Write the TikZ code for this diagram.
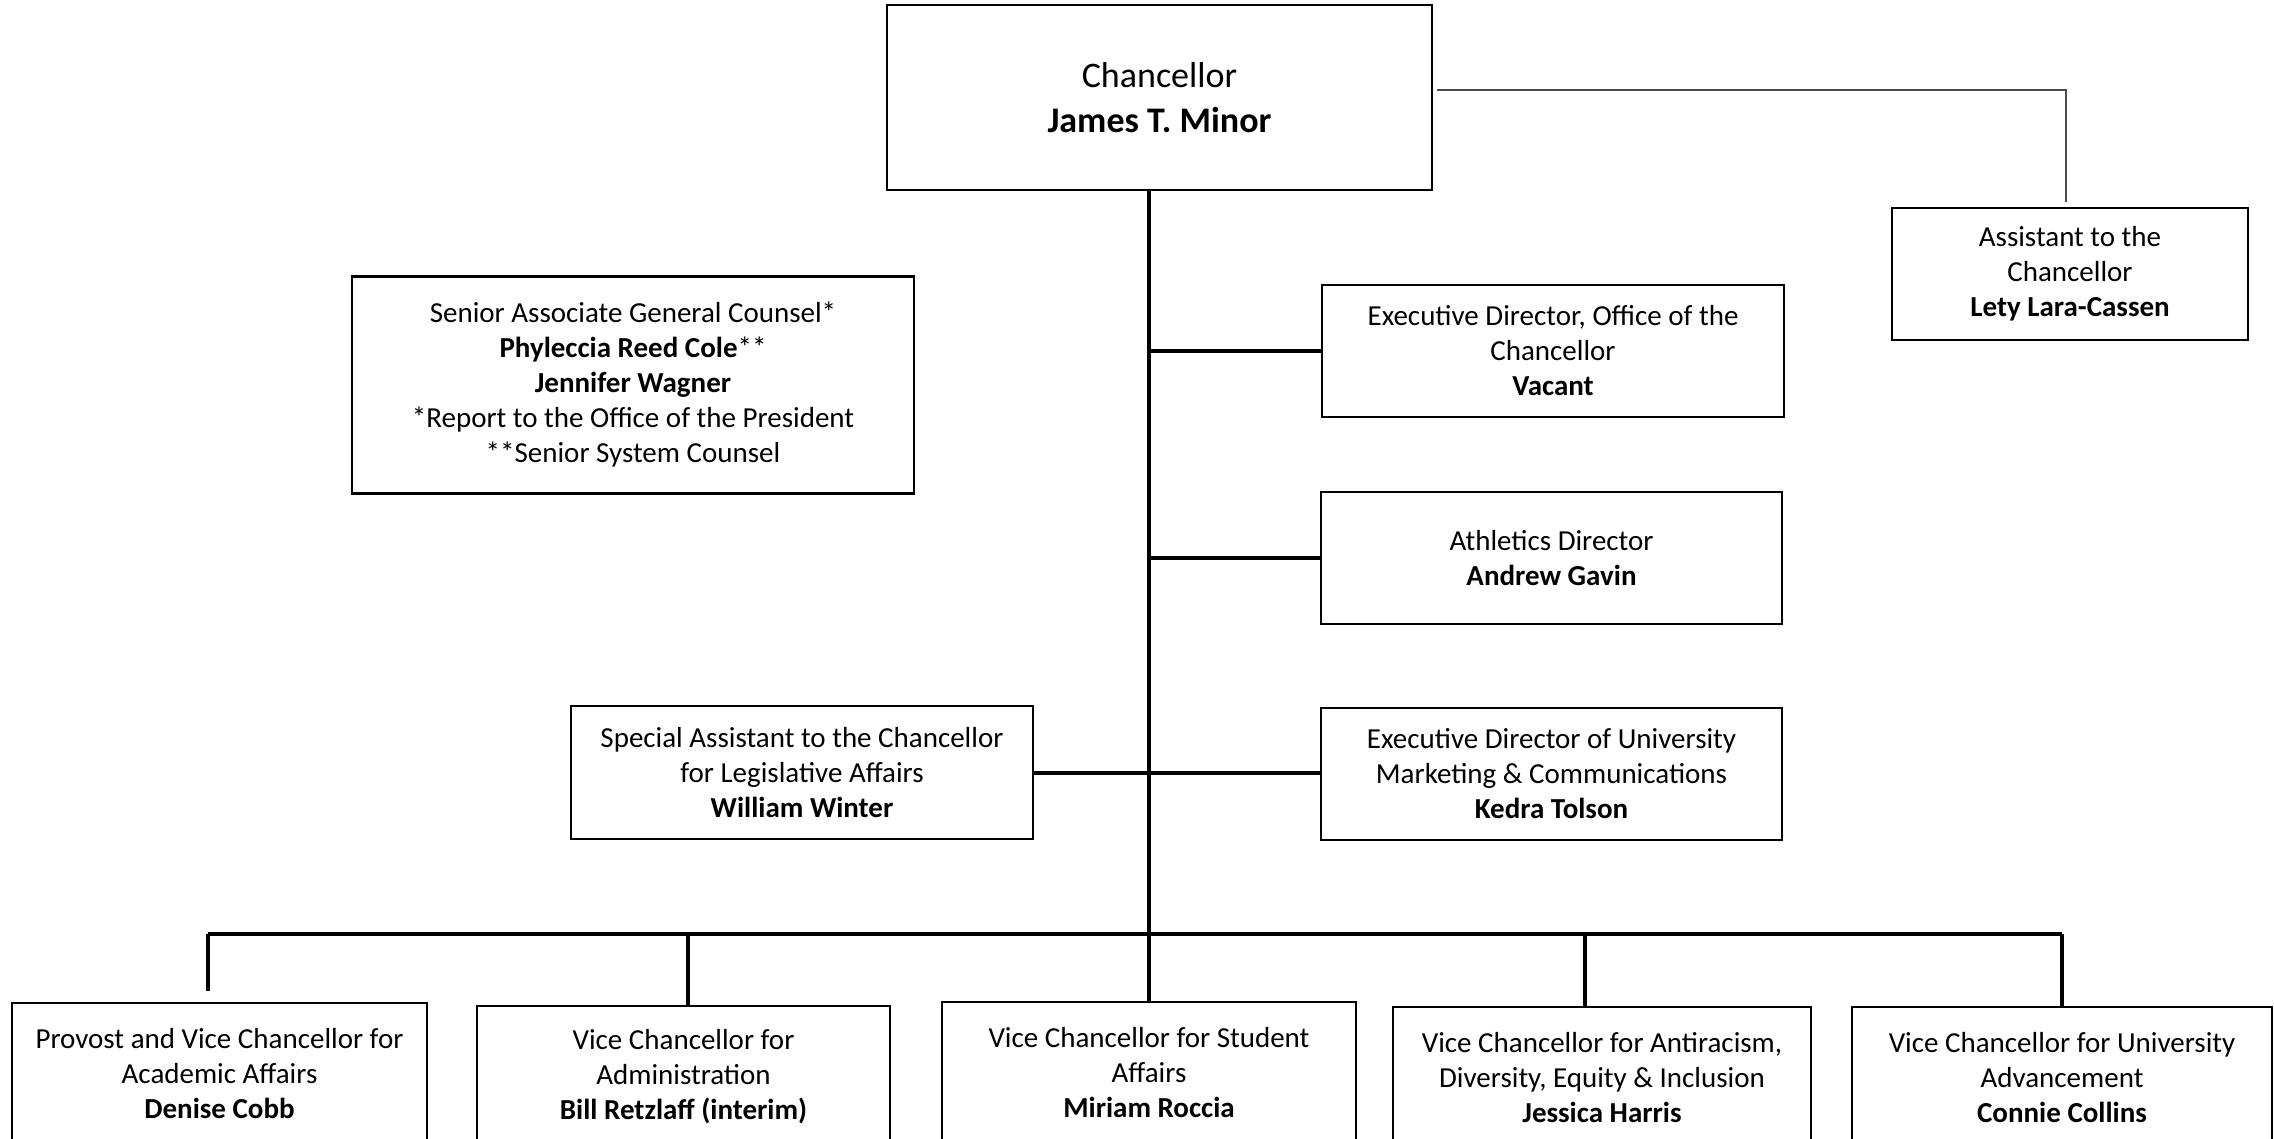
\documentclass[tikz,border=0pt]{standalone}
\usepackage{fontspec}
\setmainfont{Carlito}
\begin{document}
\begin{tikzpicture}[x=1pt,y=-1pt,
  box/.style={draw=black, line width=2.8pt, fill=white, align=center, inner sep=0pt,
    font=\fontsize{29}{35}\selectfont},
  conn/.style={line width=4pt, draw=black},
  thinconn/.style={line width=1.8pt, draw=black!70},
]
\useasboundingbox (0,0) rectangle (2274,1139);
\fill[white] (0,0) rectangle (2274,1139);

% top
\node[box, minimum width=545pt, minimum height=185pt, font=\fontsize{36}{45}\selectfont]
  (chanc) at (1159.5,97.5) {Chancellor\\\textbf{James T. Minor}};
\node[box, minimum width=356pt, minimum height=132pt]
  (assist) at (2070,274) {Assistant to the\\Chancellor\\\textbf{Lety Lara-Cassen}};
\node[box, minimum width=562pt, minimum height=217pt]
  (counsel) at (633,385) {Senior Associate General Counsel*\\\textbf{Phyleccia Reed Cole}**\\\textbf{Jennifer Wagner}\\*Report to the Office of the President\\**Senior System Counsel};

% right column
\node[box, minimum width=462pt, minimum height=132pt]
  (execdir) at (1553,351) {Executive Director, Office of the\\Chancellor\\\textbf{Vacant}};
\node[box, minimum width=461pt, minimum height=132pt]
  (athl) at (1551.5,558) {Athletics Director\\\textbf{Andrew Gavin}};
\node[box, minimum width=461pt, minimum height=132pt]
  (mkt) at (1551.5,774) {Executive Director of University\\Marketing \& Communications\\\textbf{Kedra Tolson}};
\node[box, minimum width=462pt, minimum height=133pt]
  (special) at (802,772.5) {Special Assistant to the Chancellor\\for Legislative Affairs\\\textbf{William Winter}};

% bottom row
\node[box, minimum width=415pt, minimum height=142pt]
  (b1) at (219.5,1074) {Provost and Vice Chancellor for\\Academic Affairs\\\textbf{Denise Cobb}};
\node[box, minimum width=413pt, minimum height=142pt]
  (b2) at (683.5,1077) {Vice Chancellor for\\Administration\\\textbf{Bill Retzlaff (interim)}};
\node[box, minimum width=414pt, minimum height=142pt]
  (b3) at (1149,1073) {Vice Chancellor for Student\\Affairs\\\textbf{Miriam Roccia}};
\node[box, minimum width=418pt, minimum height=142pt]
  (b4) at (1602,1078) {Vice Chancellor for Antiracism,\\Diversity, Equity \& Inclusion\\\textbf{Jessica Harris}};
\node[box, minimum width=420pt, minimum height=142pt]
  (b5) at (2062,1078) {Vice Chancellor for University\\Advancement\\\textbf{Connie Collins}};

% connectors
\draw[thinconn] ([xshift=4pt,yshift=7.5pt]chanc.east) -| ([xshift=-4pt,yshift=5pt]assist.north);

\draw[conn] (chanc.south -| b3.north) -- (b3.north);
\draw[conn] (execdir.west -| b3.north) -- (execdir.west);
\draw[conn] (athl.west -| b3.north) -- (athl.west);
\draw[conn] (special.east) -- (special.east -| mkt.west);

\coordinate (d1) at (208,934);
\coordinate (d2) at (688,934);
\coordinate (d4) at (1585,934);
\coordinate (d5) at (2062,934);
\draw[conn] (d1) -- (d5);
\draw[conn] (d1) -- ([yshift=11pt]d1 |- b1.north);
\draw[conn] (d2) -- (d2 |- b2.north);
\draw[conn] (d4) -- (d4 |- b4.north);
\draw[conn] (d5) -- (d5 |- b5.north);
\end{tikzpicture}
\end{document}
